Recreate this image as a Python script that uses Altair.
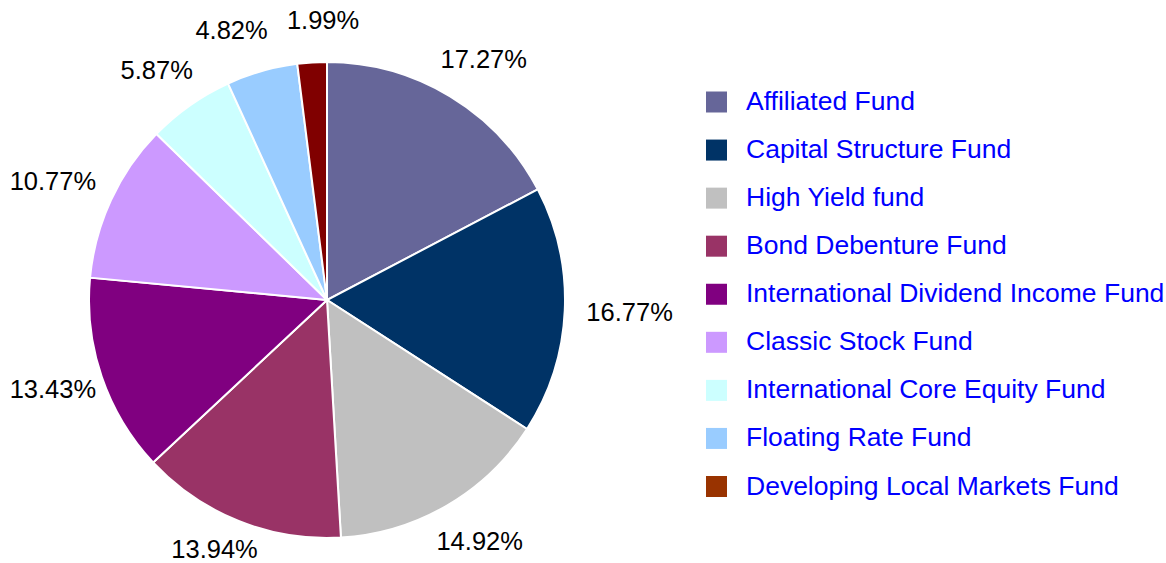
import altair as alt
import pandas as pd

funds = [
    "Affiliated Fund",
    "Capital Structure Fund",
    "High Yield fund",
    "Bond Debenture Fund",
    "International Dividend Income Fund",
    "Classic Stock Fund",
    "International Core Equity Fund",
    "Floating Rate Fund",
    "Developing Local Markets Fund",
]
shares = [17.27, 16.77, 14.92, 13.94, 13.43, 10.77, 5.87, 4.82, 1.99]

pie_colors = ["#666699", "#003366", "#C0C0C0", "#993366", "#800080",
              "#CC99FF", "#CCFFFF", "#99CCFF", "#800000"]
legend_colors = ["#666699", "#003366", "#C0C0C0", "#993366", "#800080",
                 "#CC99FF", "#CCFFFF", "#99CCFF", "#993300"]

df = pd.DataFrame({
    "fund": funds,
    "share": shares,
    "idx": list(range(len(funds))),
    "label": [f"{v:.2f}%" for v in shares],
})

W, H = 1166, 563
CX, CY, R = 327, 300, 238
DX = 260     # horizontal distance of label box edge from centre
DY = 280     # vertical distance of label centre from centre
PAD = 20     # gap kept between neighbouring labels
CHAR_W = 14.3
FONT = "Liberation Sans"

base = alt.Chart(df)

arcs = base.mark_arc(outerRadius=R, stroke="white", strokeWidth=2).encode(
    theta=alt.Theta("share:Q", stack=True),
    order=alt.Order("idx:Q"),
    color=alt.Color("fund:N", scale=alt.Scale(domain=funds, range=pie_colors), legend=None),
    x=alt.value(CX),
    y=alt.value(CY),
)

# Outside-end labels: positioned from each slice's mid angle, with a simple
# neighbour collision push and a clamp to the canvas (Vega-Lite transforms).
labels = (
    base.transform_window(cum="sum(share)", sort=[alt.SortField("idx")], frame=[None, 0])
    .transform_joinaggregate(total="sum(share)")
    .transform_calculate(
        mid="(datum.cum - datum.share/2) / datum.total * 2 * PI",
        w=f"length(datum.label) * {CHAR_W}",
    )
    .transform_calculate(
        lx0=f"{CX} + sin(datum.mid) * ({DX} + datum.w/2)",
        ly0=f"{CY} - cos(datum.mid) * {DY}",
    )
    .transform_window(
        px="lag(lx0)", py="lag(ly0)", pw="lag(w)",
        nx="lead(lx0)", ny="lead(ly0)", nw="lead(w)",
        sort=[alt.SortField("idx")],
    )
    .transform_calculate(
        ovp=f"isValid(datum.px) && abs(datum.ly0 - datum.py) < 26 ? max(0, (datum.w + datum.pw)/2 + {PAD} - abs(datum.lx0 - datum.px)) : 0",
        ovn=f"isValid(datum.nx) && abs(datum.ly0 - datum.ny) < 26 ? max(0, (datum.w + datum.nw)/2 + {PAD} - abs(datum.lx0 - datum.nx)) : 0",
    )
    .transform_calculate(
        lx1="datum.lx0 + (datum.ovp > 0 ? (datum.lx0 >= datum.px ? 1 : -1) * datum.ovp / 2 : 0)"
            " + (datum.ovn > 0 ? (datum.lx0 >= datum.nx ? 1 : -1) * datum.ovn / 2 : 0)",
    )
    .transform_calculate(
        lx=f"clamp(datum.lx1, datum.w/2 + 10, {W} - datum.w/2 - 10)",
        ly=f"clamp(datum.ly0, 16, {H} - 13)",
    )
    .mark_text(font=FONT, fontSize=25.5, color="black", align="center", baseline="middle")
    .encode(
        x=alt.X("lx:Q", scale=None, axis=None),
        y=alt.Y("ly:Q", scale=None, axis=None),
        text=alt.Text("label:N"),
    )
)

yscale = alt.Scale(type="point", domain=funds, range=[102, 486.5], padding=0)

leg_sq = base.mark_square(size=441, opacity=1).encode(
    x=alt.value(716.5),
    y=alt.Y("fund:N", scale=yscale, axis=None),
    color=alt.Color("fund:N", scale=alt.Scale(domain=funds, range=legend_colors), legend=None),
)

leg_txt = base.mark_text(font=FONT, fontSize=26.5, color="#0000FF",
                         align="left", baseline="middle").encode(
    x=alt.value(746),
    y=alt.Y("fund:N", scale=yscale, axis=None),
    text=alt.Text("fund:N"),
)

legend = alt.layer(leg_sq, leg_txt)

chart = alt.layer(arcs, labels, legend).resolve_scale(
    color="independent", x="independent", y="independent"
).properties(
    width=W, height=H,
    autosize=alt.AutoSizeParams(type="none"),
    padding=0,
    background="white",
).configure_view(stroke=None)

chart.save("out.html", embed_options={"renderer": "svg", "actions": False})
